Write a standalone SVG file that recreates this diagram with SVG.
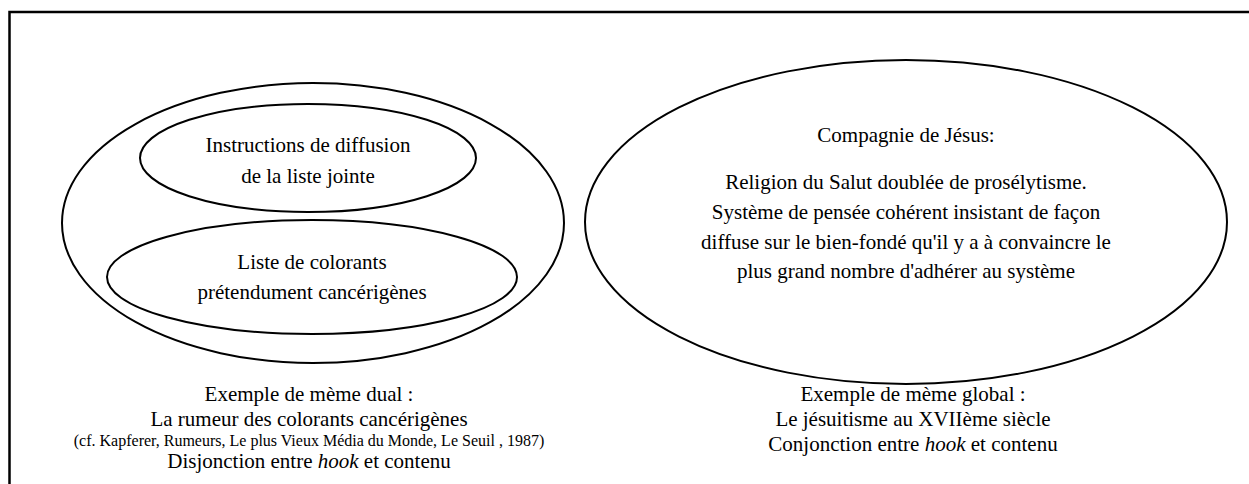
<svg xmlns="http://www.w3.org/2000/svg" width="1249" height="484" viewBox="0 0 1249 484">
<style>
.sh{fill:none;stroke:#000;stroke-width:2}
.t{fill:#000;text-anchor:middle}
</style>
<rect width="1249" height="484" fill="#fff"/>
<path d="M9.5 484 V12 H1249" fill="none" stroke="#000" stroke-width="2.5"/>
<g id="connectors"></g>
<g font-family="'Liberation Serif', 'DejaVu Serif', serif" font-size="21">
<g id="meme-dual">
<ellipse class="sh" cx="313" cy="223" rx="251" ry="140"/>
</g>
<g id="instructions">
<ellipse class="sh" cx="308" cy="158" rx="168" ry="54"/>
<text class="t" x="308" y="152">Instructions de diffusion</text>
<text class="t" x="308" y="183">de la liste jointe</text>
</g>
<g id="liste">
<ellipse class="sh" cx="312" cy="277" rx="205" ry="57"/>
<text class="t" x="312" y="269">Liste de colorants</text>
<text class="t" x="312" y="299">prétendument cancérigènes</text>
</g>
<g id="compagnie">
<ellipse class="sh" cx="906" cy="222" rx="321" ry="162"/>
<text class="t" x="906" y="142">Compagnie de Jésus:</text>
<text class="t" x="906" y="189">Religion du Salut doublée de prosélytisme.</text>
<text class="t" x="906" y="219">Système de pensée cohérent insistant de façon</text>
<text class="t" x="906" y="249">diffuse sur le bien-fondé qu'il y a à convaincre le</text>
<text class="t" x="906" y="278">plus grand nombre d'adhérer au système</text>
</g>
<g id="caption-dual">
<text class="t" x="309" y="401">Exemple de mème dual :</text>
<text class="t" x="309" y="426">La rumeur des colorants cancérigènes</text>
<text class="t" x="309" y="446" font-size="16">(cf. Kapferer, Rumeurs, Le plus Vieux Média du Monde, Le Seuil , 1987)</text>
<text class="t" x="309" y="468">Disjonction entre <tspan font-style="italic">hook</tspan> et contenu</text>
</g>
<g id="caption-global">
<text class="t" x="913" y="401">Exemple de mème global :</text>
<text class="t" x="913" y="426">Le jésuitisme au XVIIème siècle</text>
<text class="t" x="913" y="451">Conjonction entre <tspan font-style="italic">hook</tspan> et contenu</text>
</g>
</g>
</svg>
